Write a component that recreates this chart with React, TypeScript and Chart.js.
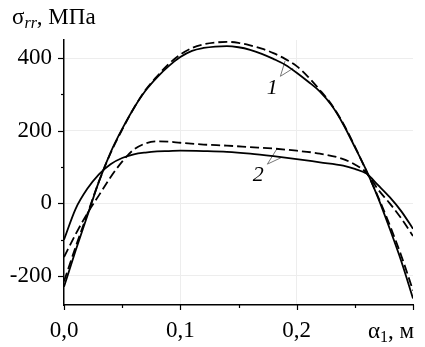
import { useEffect, useRef } from 'react';
import { Chart, registerables } from 'chart.js';

Chart.register(...registerables);

// ---- data ----
const curve1X = [0, 0.01, 0.02, 0.03, 0.04, 0.05, 0.06, 0.07, 0.08, 0.09, 0.1, 0.11, 0.12, 0.13, 0.14, 0.15, 0.16, 0.17, 0.18, 0.19, 0.2, 0.21, 0.22, 0.23, 0.24, 0.25, 0.26, 0.27, 0.28, 0.29, 0.3];
const curve1Solid = [-230, -130, -35, 60, 140, 205, 262, 310, 347, 378, 403, 420, 428, 432, 433, 430, 423, 412, 398, 382, 360, 335, 308, 270, 218, 155, 90, 15, -70, -160, -262];
const curve1Dashed = [-215, -120, -30, 60, 138, 203, 262, 312, 350, 384, 410, 428, 438, 443, 445, 442, 435, 426, 414, 398, 378, 348, 312, 272, 220, 157, 88, 18, -60, -145, -240];

const curve2X = [0, 0.01, 0.02, 0.03, 0.04, 0.05, 0.06, 0.07, 0.08, 0.09, 0.1, 0.12, 0.14, 0.16, 0.18, 0.2, 0.22, 0.24, 0.25, 0.26, 0.27, 0.28, 0.29, 0.3];
const curve2Solid = [-100, -15, 40, 80, 108, 125, 135, 140, 143, 144, 145, 144, 142, 137, 130, 122, 113, 104, 95, 82, 50, 17, -22, -70];
const curve2Dashed = [-148, -85, -28, 22, 72, 115, 148, 165, 171, 170, 167, 162, 159, 155, 151, 145, 137, 122, 107, 84, 38, 0, -42, -90];

// leader lines for curve labels: [end on dashed, apex, end on solid]
const leader1X = [0.19, 0.186, 0.197];
const leader1Y = [392, 350, 372];
const leader2X = [0.183, 0.1748, 0.1874];
const leader2Y = [150, 108, 127];

const curveLabels = ['1', '2'];
const curveLabelX = [0.179, 0.167];
const curveLabelY = [317, 78];

const xTicks = [0, 0.05, 0.1, 0.15, 0.2, 0.25, 0.3];
const xMajor = [0, 0.1, 0.2, 0.3];
const xMajorLabels = ['0,0', '0,1', '0,2', ''];
const yTicks = [-200, -100, 0, 100, 200, 300, 400];
const yMajor = [-200, 0, 200, 400];
const yMajorLabels = ['-200', '0', '200', '400'];

const X_MIN = 0;
const X_MAX = 0.3;
const Y_MIN = -280;
const Y_MAX = 450;

const FONT = "'Liberation Serif', 'Times New Roman', serif";

const pts = (xs: number[], ys: number[]) => xs.map((x, i) => ({ x, y: ys[i] }));
const isMajor = (arr: number[], v: number) => arr.some((m) => Math.abs(m - v) < 1e-9);
const majorIndex = (arr: number[], v: number) => arr.findIndex((m) => Math.abs(m - v) < 1e-9);

const tickMarksPlugin = {
  id: 'tickMarks',
  afterDraw(chart: any) {
    const { ctx, chartArea, scales } = chart;
    const xs = scales.x;
    const ys = scales.y;
    ctx.save();
    ctx.strokeStyle = '#000';
    ctx.lineWidth = 1.2;
    xTicks.forEach((v) => {
      const px = Math.round(xs.getPixelForValue(v)) + 0.5;
      const len = isMajor(xMajor, v) ? 5 : 3;
      ctx.beginPath();
      ctx.moveTo(px, chartArea.bottom);
      ctx.lineTo(px, chartArea.bottom + len);
      ctx.stroke();
    });
    yTicks.forEach((v) => {
      const py = Math.round(ys.getPixelForValue(v)) + 0.5;
      const len = isMajor(yMajor, v) ? 6 : 3;
      ctx.beginPath();
      ctx.moveTo(chartArea.left, py);
      ctx.lineTo(chartArea.left - len, py);
      ctx.stroke();
    });
    ctx.restore();
  },
};

const textPlugin = {
  id: 'texts',
  afterDraw(chart: any) {
    const { ctx, scales } = chart;
    const xs = scales.x;
    const ys = scales.y;
    ctx.save();
    ctx.fillStyle = '#000';
    ctx.textBaseline = 'alphabetic';
    ctx.textAlign = 'left';
    // y-axis title: σ_rr, МПа
    let x = 12;
    const base = 24;
    ctx.font = `23px ${FONT}`;
    ctx.fillText('σ', x, base);
    x += ctx.measureText('σ').width;
    ctx.font = `italic 16px ${FONT}`;
    ctx.fillText('rr', x, base + 4);
    x += ctx.measureText('rr').width;
    ctx.font = `23px ${FONT}`;
    ctx.fillText(', МПа', x, base);

    // x-axis title: α_1, м (right aligned at axis end)
    ctx.font = `23px ${FONT}`;
    const wA = ctx.measureText('α').width;
    const wTail = ctx.measureText(', м').width;
    ctx.font = `16px ${FONT}`;
    const w1 = ctx.measureText('1').width;
    const right = xs.getPixelForValue(X_MAX) + 1;
    let sx = right - wA - w1 - wTail;
    const xb = 338;
    ctx.font = `23px ${FONT}`;
    ctx.fillText('α', sx, xb);
    sx += wA;
    ctx.font = `16px ${FONT}`;
    ctx.fillText('1', sx, xb + 4);
    sx += w1;
    ctx.font = `23px ${FONT}`;
    ctx.fillText(', м', sx, xb);

    // curve labels
    ctx.font = `italic 22px ${FONT}`;
    ctx.textAlign = 'center';
    ctx.textBaseline = 'middle';
    curveLabels.forEach((t, i) => {
      ctx.fillText(t, xs.getPixelForValue(curveLabelX[i]), ys.getPixelForValue(curveLabelY[i]));
    });
    ctx.restore();
  },
};

export default function App() {
  const ref = useRef<HTMLCanvasElement | null>(null);

  useEffect(() => {
    if (!ref.current) return;
    const solid = { borderColor: '#000', borderWidth: 1.8, pointRadius: 0, cubicInterpolationMode: 'monotone' as const, fill: false };
    const dashed = { ...solid, borderDash: [9, 4] };
    const leader = { borderColor: '#777', borderWidth: 1, pointRadius: 0, tension: 0, fill: false };
    const chart = new Chart(ref.current, {
      type: 'line',
      data: {
        datasets: [
          { label: '1 solid', data: pts(curve1X, curve1Solid), ...solid },
          { label: '1 dashed', data: pts(curve1X, curve1Dashed), ...dashed },
          { label: '2 solid', data: pts(curve2X, curve2Solid), ...solid },
          { label: '2 dashed', data: pts(curve2X, curve2Dashed), ...dashed },
          { label: 'leader 1', data: pts(leader1X, leader1Y), ...leader },
          { label: 'leader 2', data: pts(leader2X, leader2Y), ...leader },
        ] as any,
      },
      options: {
        animation: false,
        responsive: true,
        maintainAspectRatio: false,
        layout: { padding: { top: 40, right: 5, left: 0, bottom: 0 } },
        plugins: { legend: { display: false }, tooltip: { enabled: false }, title: { display: false } },
        scales: {
          x: {
            type: 'linear',
            min: X_MIN,
            max: X_MAX,
            afterBuildTicks: (scale: any) => {
              scale.ticks = xTicks.map((v) => ({ value: v }));
            },
            afterFit: (scale: any) => {
              scale.height = 42;
            },
            ticks: {
              autoSkip: false,
              maxRotation: 0,
              padding: 12,
              color: '#000',
              font: { family: FONT, size: 23 },
              callback: (v: any) => {
                const i = majorIndex(xMajor, Number(v));
                return i >= 0 ? xMajorLabels[i] : '';
              },
            },
            grid: {
              drawTicks: false,
              lineWidth: 1,
              color: (c: any) => {
                const v = c.tick ? c.tick.value : NaN;
                return isMajor([0.1, 0.2], v) ? '#ededed' : 'rgba(0,0,0,0)';
              },
            },
            border: { display: true, color: '#000', width: 1.5 },
          },
          y: {
            type: 'linear',
            min: Y_MIN,
            max: Y_MAX,
            afterBuildTicks: (scale: any) => {
              scale.ticks = yTicks.map((v) => ({ value: v }));
            },
            afterFit: (scale: any) => {
              scale.width = 64;
            },
            ticks: {
              autoSkip: false,
              padding: 12,
              color: '#000',
              font: { family: FONT, size: 23 },
              callback: (v: any) => {
                const i = majorIndex(yMajor, Number(v));
                return i >= 0 ? yMajorLabels[i] : '';
              },
            },
            grid: {
              drawTicks: false,
              lineWidth: 1,
              color: (c: any) => {
                const v = c.tick ? c.tick.value : NaN;
                return isMajor(yMajor, v) ? '#ededed' : 'rgba(0,0,0,0)';
              },
            },
            border: { display: true, color: '#000', width: 1.5 },
          },
        },
      },
      plugins: [tickMarksPlugin, textPlugin],
    });
    return () => chart.destroy();
  }, []);

  return (
    <div style={{ position: 'absolute', left: 0, top: 0, width: 425, height: 347, background: '#fff' }}>
      <canvas ref={ref} />
    </div>
  );
}
